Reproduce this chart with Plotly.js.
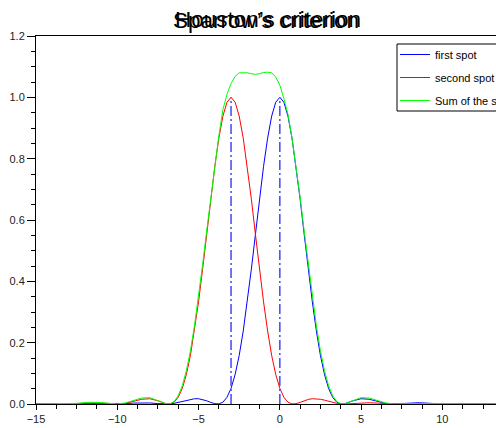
<!DOCTYPE html>
<html>
<head>
<meta charset="utf-8">
<script src="https://cdn.plot.ly/plotly-3.0.1.min.js"></script>
<style>html,body{margin:0;padding:0;background:#fff;}#chart{width:496px;height:428px;}</style>
</head>
<body>
<div id="chart"></div>
<script>
// x positions (abscissa)
const xVals = [
  -15,-14.5,-14,-13.5,-13,-12.5,-12,-11.5,-11,-10.5,-10,-9.5,-9,-8.5,-8,-7.5,
  -7,-6.75,-6.5,-6.25,-6,-5.75,-5.5,-5.25,-5,-4.75,-4.5,-4.25,-4,-3.75,-3.5,-3.25,-3,
  -2.75,-2.5,-2.25,-2,-1.75,-1.5,-1.25,-1,-0.75,-0.5,-0.25,0,
  0.25,0.5,0.75,1,1.25,1.5,1.75,2,2.25,2.5,2.75,3,3.25,3.5,3.75,4,
  4.5,5,5.5,6,6.5,7,7.5,8,8.5,9,9.5,10,10.5,11,11.5,12,12.5,13,13.5,14,14.5,15
];
// first spot (centred at 0)
const firstSpot = [
  .0007,.0007,.0004,0,.0001,.0007,.0014,.0016,.0010,.0002,.0001,.0012,.0030,.0041,.0034,.0013,
  0,.0006,.0022,.0051,.0085,.0125,.0154,.0171,.0172,.0150,.0106,.0052,.0011,.0003,.006,.022,.051,
  .096,.158,.238,.333,.440,.553,.668,.775,.867,.939,.984,1,
  .984,.939,.867,.775,.668,.553,.440,.333,.238,.158,.096,.051,.022,.006,.0003,.0011,
  .0106,.0172,.0154,.0085,.0022,0,.0013,.0034,.0041,.0030,.0012,.0001,.0002,.0010,.0016,.0014,.0007,.0001,0,.0004,.0007,.0007
];
// second spot (centred at -3)
const secondSpot = [
  .0014,.0016,.0010,.0002,.0001,.0012,.0030,.0041,.0034,.0013,0,.0022,.0085,.0154,.0172,.0106,
  .0011,.0003,.006,.022,.051,.096,.158,.238,.333,.440,.553,.668,.775,.867,.939,.984,1,
  .984,.939,.867,.775,.668,.553,.440,.333,.238,.158,.096,.051,
  .022,.006,.0003,.0011,.0052,.0106,.0150,.0172,.0171,.0154,.0125,.0085,.0051,.0022,.0006,0,
  .0013,.0034,.0041,.0030,.0012,.0001,.0002,.0010,.0016,.0014,.0007,.0001,0,.0004,.0007,.0007,.0004,.0001,0,.0001,.0004,.0004
];
// sum of the spots
const sumSpots = [
  .0008,.0008,.0006,.0002,.0002,.0019,.0044,.0057,.0044,.0015,.0001,.0034,.0115,.0195,.0206,.0119,
  .0011,.0009,.0082,.0271,.0595,.1085,.1734,.2551,.3502,.455,.5636,.6732,.7761,.875,.96,1.01,1.045,
  1.068,1.08,1.081,1.08,1.077,1.075,1.077,1.081,1.082,1.08,1.066,1.04,
  .996,.945,.8673,.7761,.6732,.5636,.455,.3502,.2551,.1734,.1085,.0595,.0271,.0082,.0009,.0011,
  .0119,.0206,.0195,.0115,.0034,.0001,.0015,.0015,.0015,.0015,.0012,.0002,.0002,.0014,.0023,.0021,.0011,.0002,0,.0005,.0011,.0011
];
// spot centres (vertical dash-dot markers)
const peakX = [-3, 0];
const peakY = [1, 1];
const seriesNames = ["first spot", "second spot", "Sum of the spots"];
const titles = ["Sparrow\u2019s criterion", "Houston\u2019s criterion"];
const xTicks = [-15, -10, -5, 0, 5, 10];

const vx = [], vy = [];
peakX.forEach((p, i) => { vx.push(p, p, null); vy.push(0, peakY[i], null); });

const font = "'Liberation Sans', Arial, Helvetica, sans-serif";
const traces = [
  {x: xVals, y: firstSpot, name: seriesNames[0], mode: 'lines', line: {color: '#0000ff', width: 1}, legendgroup: 'a'},
  {x: xVals, y: secondSpot, name: seriesNames[1], mode: 'lines', line: {color: '#ff0000', width: 1}, legendgroup: 'b'},
  {x: xVals, y: sumSpots, name: seriesNames[2], mode: 'lines', line: {color: '#00ff00', width: 1}, legendgroup: 'c'},
  {x: vx, y: vy, mode: 'lines', showlegend: false, hoverinfo: 'skip',
   line: {color: 'rgb(80,80,255)', width: 1.6, dash: '10px,3px,2px,3px'}}
];

// legend frame (right side runs past the picture edge, as in the reference)
const plotL = 36, plotT = 36, plotW = 460, plotH = 368;
const px2x = p => (p - plotL) / plotW;
const px2y = p => 1 - (p - plotT) / plotH;

const layout = {
  width: 496, height: 428,
  margin: {l: plotL, r: 0, t: plotT, b: 24, pad: 0, autoexpand: false},
  paper_bgcolor: '#fff', plot_bgcolor: '#fff',
  font: {family: font, size: 11, color: '#000'},
  title: {text: titles[0], font: {family: font, size: 22.5, color: '#000'},
          x: 0.5, xref: 'paper', xanchor: 'center', y: 0.954, yanchor: 'middle'},
  annotations: [{text: titles[1], xref: 'paper', yref: 'paper', x: 0.5 + 2 / plotW, y: 1.0443,
                 xanchor: 'center', yanchor: 'middle', showarrow: false,
                 font: {family: font, size: 22.5, color: '#000'}}],
  shapes: [{type: 'rect', xref: 'paper', yref: 'paper', x0: px2x(397), x1: 1.2, y0: px2y(111), y1: px2y(44),
            line: {color: '#000', width: 1}, fillcolor: '#fff', layer: 'above'}],
  xaxis: {range: [-15, 13.3], tickvals: xTicks, ticks: 'outside', ticklen: 5, tickcolor: '#000',
          showline: true, linecolor: '#000', linewidth: 1, mirror: true, showgrid: false, zeroline: false,
          automargin: false, layer: 'above traces', tickfont: {size: 11, color: '#222'},
          minor: {dtick: 1.25, tick0: 0, ticks: 'outside', ticklen: 4, tickcolor: '#000', showgrid: false}},
  yaxis: {range: [0, 1.2], dtick: 0.2, tick0: 0, tickformat: '.1f', ticks: 'outside', ticklen: 8, tickcolor: '#000',
          showline: true, linecolor: '#000', linewidth: 1, showgrid: false, zeroline: false,
          automargin: false, layer: 'above traces', tickfont: {size: 11, color: '#222'},
          minor: {dtick: 0.05, ticks: 'outside', ticklen: 4, tickcolor: '#000', showgrid: false}},
  legend: {x: px2x(395), y: px2y(40), xanchor: 'left', yanchor: 'top', borderwidth: 0,
           bgcolor: 'rgba(0,0,0,0)', font: {size: 11, color: '#000'}, tracegroupgap: 4, itemwidth: 30},
  showlegend: true
};
Plotly.newPlot('chart', traces, layout, {staticPlot: true});
</script>
</body>
</html>
